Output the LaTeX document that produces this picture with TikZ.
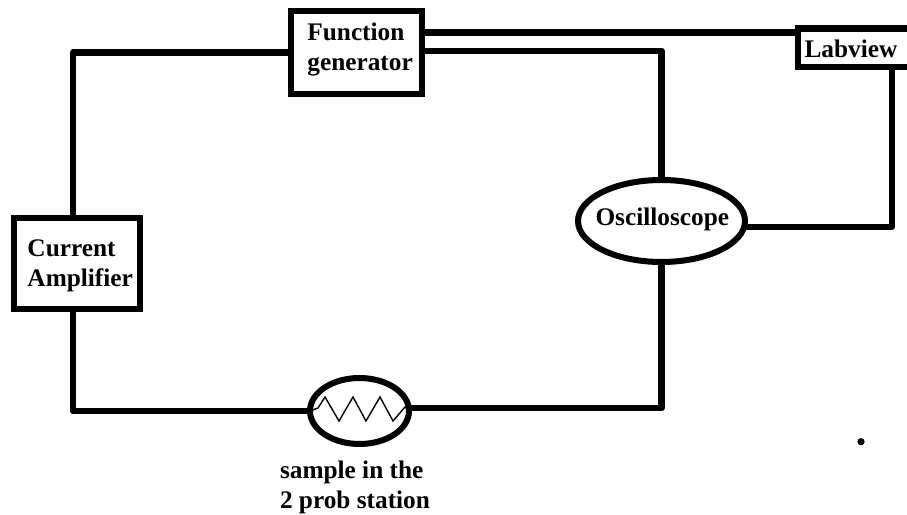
\documentclass[tikz,border=0pt]{standalone}
\usepackage{fontspec}
\setmainfont{Liberation Serif}
\usetikzlibrary{shapes.geometric}
\tikzset{
  every node/.style={font=\fontsize{18}{21.3}\selectfont\bfseries,text=black},
  every label/.style={font=\fontsize{18}{21.3}\selectfont\bfseries,text=black,align=left,inner sep=0pt},
  box/.style={draw=black,line width=.165cm,outer sep=0pt,inner sep=0pt},
  oval/.style={ellipse,draw=black,line width=.15cm,outer sep=0pt,inner sep=0pt},
  wire/.style={draw=black,line width=.16cm,line join=round},
  zigzag/.style={draw=black,line width=.035cm},
  speck/.style={circle,fill=black,inner sep=0pt,minimum size=.18cm},
  caption/.style={align=left,inner sep=0pt},
}
\begin{document}
\begin{tikzpicture}[x=1cm,y=1cm]
  \path[use as bounding box,clip] (0,0) rectangle (22.675,12.875);
  \node[box,minimum width=3.275cm,minimum height=2.075cm,label={[xshift=.09cm,yshift=.07cm]center:Function\\generator}] (fngen) at (8.9125,11.5625) {};
  \node[box,minimum width=2.85cm,minimum height=.9625cm,label={[xshift=-.1cm,yshift=-.02cm]center:Labview}] (labview) at (21.375,11.681) {};
  \node[box,minimum width=3.15cm,minimum height=2.275cm,label={[xshift=.08cm,yshift=-.05cm]center:Current\\Amplifier}] (amp) at (1.925,6.2875) {};
  \node[oval,minimum width=4.175cm,minimum height=2.05cm,label={[yshift=.03cm,xshift=.02cm]center:Oscilloscope}] (scope) at (16.5375,7.35) {};
  \node[oval,minimum width=2.475cm,minimum height=1.65cm] (sample) at (8.9875,2.6) {};
  \node[caption] (samplelbl) at (8.875,.7) {sample in the\\2 prob station};
  \node[speck] (speck) at (21.525,1.8325) {};

  \draw[wire] (fngen.west) -| ([xshift=-.1cm]amp.north);
  \draw[wire] ([yshift=.5cm]fngen.east) -- ([yshift=.3815cm]labview.west);
  \draw[wire] ([yshift=.04cm]fngen.east) -| (scope.north);
  \draw[wire] ([yshift=-.15cm]scope.east) -| ([xshift=.925cm]labview.south);
  \draw[wire] ([xshift=-.1cm]amp.south) |- (sample.west);
  \draw[wire] ([yshift=.07cm]sample.east) -| (scope.south);
  \draw[zigzag] (sample.west) -- (7.95,2.675) -- (8.125,2.95) -- (8.475,2.35) -- (8.825,2.95) -- (9.15,2.35)
    -- (9.5,2.95) -- (9.825,2.35) -- (10.125,2.7) -- (sample.east);
\end{tikzpicture}
\end{document}
